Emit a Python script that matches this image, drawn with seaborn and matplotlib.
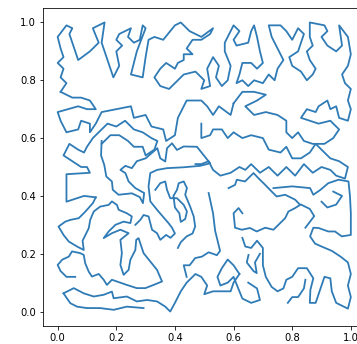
import numpy as np
import pandas as pd
import matplotlib
matplotlib.use('Agg')
import matplotlib.pyplot as plt
import seaborn as sns

# strokes of the tour (x, y)
top_row = [
    (0.01, 0.76), (0.03, 0.79), (0.01, 0.81), (0.02, 0.84), (0.00, 0.86), (0.02, 0.88),
    (0.01, 0.91), (0.00, 0.95), (0.03, 0.99), (0.05, 0.98), (0.04, 0.96), (0.05, 0.93),
    (0.07, 0.87), (0.11, 0.90), (0.14, 0.93), (0.12, 0.98), (0.16, 1.00), (0.15, 0.93),
    (0.17, 0.87), (0.19, 0.81), (0.21, 0.85), (0.20, 0.90), (0.22, 0.92), (0.20, 0.94),
    (0.21, 0.96), (0.23, 0.97), (0.25, 0.98), (0.24, 0.95), (0.26, 0.93), (0.28, 0.94),
    (0.29, 0.99), (0.30, 0.98), (0.27, 0.90), (0.25, 0.82), (0.29, 0.81), (0.30, 0.88),
    (0.31, 0.94), (0.33, 0.95), (0.36, 0.94), (0.40, 0.99), (0.42, 1.00), (0.45, 0.97),
    (0.49, 0.95), (0.53, 0.98), (0.52, 0.96), (0.49, 0.94), (0.46, 0.94), (0.44, 0.91),
    (0.46, 0.89), (0.43, 0.89), (0.43, 0.87), (0.41, 0.86), (0.40, 0.84), (0.37, 0.86),
    (0.35, 0.84), (0.33, 0.81), (0.35, 0.78), (0.38, 0.77), (0.41, 0.80), (0.43, 0.82),
    (0.47, 0.83), (0.50, 0.80), (0.49, 0.77), (0.52, 0.78), (0.51, 0.84), (0.53, 0.88),
    (0.55, 0.85), (0.54, 0.81), (0.56, 0.78), (0.58, 0.80), (0.59, 0.85), (0.57, 0.90),
    (0.57, 0.93), (0.59, 0.97), (0.60, 0.99), (0.62, 0.97), (0.60, 0.94), (0.61, 0.92),
    (0.65, 0.93), (0.66, 0.97), (0.67, 0.99), (0.68, 0.95), (0.69, 0.90), (0.70, 0.86),
    (0.68, 0.84), (0.66, 0.86), (0.63, 0.86), (0.62, 0.82), (0.61, 0.79), (0.63, 0.80),
    (0.65, 0.78), (0.67, 0.80), (0.70, 0.79), (0.72, 0.82), (0.74, 0.80), (0.75, 0.84),
    (0.77, 0.87), (0.75, 0.91), (0.73, 0.95), (0.72, 0.99), (0.76, 0.99), (0.78, 0.97),
    (0.80, 0.94), (0.82, 0.98), (0.84, 0.96), (0.83, 0.93), (0.82, 0.90), (0.79, 0.88),
    (0.80, 0.85), (0.83, 0.83), (0.85, 0.80), (0.87, 0.82), (0.88, 0.84), (0.86, 0.87),
    (0.85, 0.90), (0.87, 0.92), (0.86, 0.95), (0.86, 1.00), (0.91, 0.99), (0.92, 0.97),
    (0.90, 0.95), (0.92, 0.92), (0.95, 0.90), (0.97, 0.92), (0.96, 0.99), (0.99, 0.95),
    (1.00, 0.89), (0.99, 0.85), (0.97, 0.82), (0.98, 0.79), (1.00, 0.77), (0.99, 0.73),
    (1.00, 0.70), (0.99, 0.66), (0.96, 0.67), (0.95, 0.71), (0.93, 0.70), (0.92, 0.73),
    (0.89, 0.71), (0.88, 0.69), (0.85, 0.70), (0.83, 0.67), (0.86, 0.66), (0.89, 0.65),
    (0.93, 0.66), (0.96, 0.63), (0.94, 0.60), (0.91, 0.58), (0.87, 0.58), (0.84, 0.59),
    (0.82, 0.62), (0.80, 0.60), (0.78, 0.62), (0.78, 0.66), (0.75, 0.68), (0.71, 0.69),
    (0.67, 0.68), (0.64, 0.71), (0.68, 0.73), (0.71, 0.75), (0.67, 0.76), (0.63, 0.76),
    (0.60, 0.72),
]

upper_left = [
    (0.01, 0.76), (0.05, 0.74), (0.08, 0.74), (0.11, 0.73), (0.13, 0.70), (0.10, 0.70),
    (0.07, 0.71), (0.00, 0.69), (0.01, 0.66), (0.03, 0.62), (0.07, 0.63), (0.08, 0.66),
    (0.11, 0.65), (0.11, 0.62), (0.13, 0.65), (0.15, 0.69), (0.20, 0.70), (0.25, 0.71),
    (0.26, 0.67), (0.30, 0.68), (0.32, 0.64), (0.36, 0.63), (0.37, 0.59), (0.40, 0.61),
    (0.41, 0.67), (0.44, 0.73), (0.49, 0.73), (0.51, 0.71), (0.53, 0.68), (0.55, 0.71),
    (0.59, 0.68), (0.60, 0.72),
]
upper_mid = [
    (0.15, 0.58), (0.18, 0.61), (0.21, 0.61), (0.24, 0.59), (0.26, 0.57), (0.29, 0.57),
    (0.30, 0.54), (0.33, 0.56), (0.34, 0.59), (0.32, 0.60), (0.29, 0.62), (0.26, 0.63),
    (0.23, 0.66), (0.20, 0.64), (0.17, 0.65), (0.15, 0.63), (0.12, 0.60), (0.10, 0.57),
    (0.09, 0.55), (0.07, 0.56), (0.04, 0.58), (0.02, 0.54), (0.05, 0.52), (0.08, 0.50),
    (0.10, 0.50), (0.11, 0.48), (0.03, 0.475), (0.03, 0.43), (0.03, 0.38), (0.06, 0.39),
    (0.09, 0.40), (0.13, 0.395),
]
upper_right = [
    (0.49, 0.65), (0.49, 0.60), (0.52, 0.61), (0.53, 0.63), (0.56, 0.63), (0.58, 0.60),
    (0.60, 0.62), (0.63, 0.60), (0.66, 0.61), (0.70, 0.60), (0.72, 0.56), (0.76, 0.55),
    (0.78, 0.57), (0.80, 0.53), (0.83, 0.53), (0.86, 0.55), (0.88, 0.58), (0.91, 0.55),
    (0.93, 0.53), (0.96, 0.52), (0.99, 0.50), (0.98, 0.46), (0.95, 0.47), (0.93, 0.49),
    (0.90, 0.50), (0.87, 0.48), (0.84, 0.51), (0.81, 0.47), (0.78, 0.50), (0.75, 0.47),
    (0.72, 0.50), (0.69, 0.48), (0.66, 0.51), (0.64, 0.49), (0.62, 0.50), (0.59, 0.48),
    (0.555, 0.47), (0.53, 0.49), (0.515, 0.52), (0.49, 0.51), (0.47, 0.51),
]

lower_left = [
    (0.15, 0.59), (0.148, 0.54), (0.159, 0.507), (0.166, 0.467), (0.185, 0.45),
    (0.188, 0.421), (0.208, 0.404), (0.253, 0.409), (0.28, 0.396), (0.291, 0.375),
    (0.295, 0.41), (0.265, 0.427), (0.242, 0.45), (0.231, 0.479), (0.214, 0.49),
    (0.231, 0.504), (0.253, 0.496), (0.27, 0.52), (0.30, 0.53), (0.34, 0.565),
    (0.35, 0.53), (0.367, 0.519), (0.373, 0.565), (0.39, 0.582), (0.407, 0.559),
    (0.43, 0.571), (0.475, 0.57), (0.52, 0.513), (0.486, 0.504), (0.429, 0.499),
    (0.373, 0.496), (0.339, 0.49), (0.316, 0.479), (0.31, 0.433), (0.316, 0.381),
    (0.339, 0.352), (0.361, 0.326), (0.378, 0.306), (0.39, 0.29), (0.40, 0.27),
    (0.385, 0.255), (0.37, 0.265), (0.35, 0.248), (0.339, 0.271), (0.322, 0.283),
    (0.316, 0.306), (0.31, 0.329), (0.293, 0.334), (0.282, 0.317), (0.265, 0.3),
]
lower_left_2 = [
    (0.333, 0.421), (0.35, 0.444), (0.367, 0.45), (0.373, 0.421), (0.384, 0.392),
    (0.407, 0.392), (0.43, 0.369), (0.441, 0.346), (0.435, 0.32), (0.42, 0.31),
    (0.415, 0.34), (0.40, 0.36), (0.395, 0.40), (0.407, 0.421), (0.413, 0.444),
    (0.43, 0.45), (0.441, 0.427), (0.435, 0.404), (0.452, 0.363), (0.464, 0.329),
    (0.469, 0.294), (0.46, 0.27), (0.44, 0.26), (0.42, 0.24), (0.41, 0.22),
]
crab = [
    (0.13, 0.395), (0.12, 0.375), (0.100, 0.352), (0.089, 0.340), (0.072, 0.323),
    (0.043, 0.317), (0.026, 0.311), (0.003, 0.294), (0.020, 0.265), (0.038, 0.242),
    (0.066, 0.225), (0.089, 0.213), (0.085, 0.245), (0.106, 0.288), (0.111, 0.317),
    (0.123, 0.346), (0.145, 0.363), (0.174, 0.369), (0.185, 0.381), (0.202, 0.369),
    (0.208, 0.352), (0.236, 0.340), (0.253, 0.329), (0.248, 0.306), (0.225, 0.311),
    (0.197, 0.3), (0.174, 0.277), (0.157, 0.254), (0.185, 0.271), (0.214, 0.283),
    (0.242, 0.271), (0.214, 0.248), (0.219, 0.202), (0.214, 0.161), (0.225, 0.127),
    (0.242, 0.144), (0.248, 0.179), (0.265, 0.213), (0.268, 0.248), (0.276, 0.254),
    (0.293, 0.202), (0.316, 0.173), (0.339, 0.144), (0.356, 0.104), (0.327, 0.092),
    (0.299, 0.081), (0.27, 0.081), (0.236, 0.092), (0.202, 0.104), (0.185, 0.11),
    (0.168, 0.092), (0.157, 0.11), (0.14, 0.13), (0.117, 0.121), (0.106, 0.138),
    (0.094, 0.167), (0.089, 0.196), (0.077, 0.202), (0.049, 0.208), (0.038, 0.19),
    (0.015, 0.179), (0.0, 0.161), (0.01, 0.14), (0.03, 0.12), (0.06, 0.12),
]
bottom_left = [
    (0.02, 0.063), (0.055, 0.081), (0.089, 0.063), (0.123, 0.052), (0.157, 0.058),
    (0.185, 0.069), (0.191, 0.046), (0.236, 0.052), (0.27, 0.035), (0.305, 0.04),
    (0.339, 0.035), (0.367, 0.017), (0.384, 0.0), (0.40, 0.03), (0.42, 0.07),
    (0.44, 0.10), (0.47, 0.13), (0.49, 0.12), (0.51, 0.09), (0.50, 0.06),
    (0.53, 0.07), (0.56, 0.07), (0.59, 0.07), (0.60, 0.10), (0.62, 0.13),
]
bottom_left_2 = [
    (0.02, 0.063), (0.043, 0.029), (0.066, 0.017), (0.1, 0.012), (0.145, 0.012),
    (0.191, 0.006), (0.236, 0.017), (0.293, 0.012),
]

lower_right = [
    (0.515, 0.41), (0.53, 0.34), (0.537, 0.28), (0.554, 0.21), (0.543, 0.195),
    (0.515, 0.205), (0.492, 0.19), (0.469, 0.185), (0.45, 0.16), (0.43, 0.16),
    (0.44, 0.12),
]
lower_right_2 = [
    (0.583, 0.427), (0.605, 0.438), (0.611, 0.456), (0.639, 0.450), (0.668, 0.479),
    (0.685, 0.461), (0.708, 0.438), (0.73, 0.415), (0.747, 0.398), (0.776, 0.404),
    (0.81, 0.387), (0.827, 0.369), (0.81, 0.358), (0.787, 0.346), (0.776, 0.323),
    (0.759, 0.306), (0.736, 0.283), (0.708, 0.29), (0.679, 0.277), (0.656, 0.289),
    (0.628, 0.283), (0.605, 0.29), (0.60, 0.34), (0.617, 0.358), (0.63, 0.34),
]
lower_right_3 = [
    (0.736, 0.427), (0.80, 0.433), (0.861, 0.427), (0.872, 0.404), (0.895, 0.42),
    (0.923, 0.444), (0.958, 0.456), (0.992, 0.45), (0.997, 0.40), (1.0, 0.34),
    (1.0, 0.265), (0.969, 0.26), (0.946, 0.277), (0.923, 0.277), (0.89, 0.289),
    (0.872, 0.29), (0.861, 0.26), (0.878, 0.235), (0.90, 0.225), (0.935, 0.21),
    (0.965, 0.19), (0.99, 0.17), (1.0, 0.13), (0.99, 0.09), (1.0, 0.05),
    (0.99, 0.01), (0.95, 0.03), (0.935, 0.07), (0.93, 0.115), (0.91, 0.12),
    (0.90, 0.09), (0.89, 0.06), (0.88, 0.03), (0.86, 0.03), (0.862, 0.075),
    (0.872, 0.115), (0.85, 0.15), (0.82, 0.15), (0.80, 0.12), (0.78, 0.11),
    (0.77, 0.08), (0.75, 0.07), (0.73, 0.085), (0.71, 0.12), (0.70, 0.16),
    (0.70, 0.19), (0.70, 0.22), (0.68, 0.245), (0.66, 0.22), (0.64, 0.225),
    (0.63, 0.255),
]
lower_right_4 = [
    (0.651, 0.196), (0.645, 0.17), (0.668, 0.14), (0.679, 0.133), (0.673, 0.17),
    (0.69, 0.2),
]
lower_right_5 = [
    (0.62, 0.13), (0.60, 0.16), (0.58, 0.18), (0.56, 0.15), (0.545, 0.12),
    (0.555, 0.09), (0.58, 0.10), (0.60, 0.12), (0.63, 0.045), (0.66, 0.03),
    (0.69, 0.04), (0.68, 0.08), (0.65, 0.10),
]
lower_right_6 = [
    (0.785, 0.03), (0.80, 0.05), (0.82, 0.05), (0.84, 0.08), (0.845, 0.11),
]
right_notch = [
    (0.83, 0.37), (0.86, 0.355), (0.875, 0.33), (0.86, 0.31), (0.845, 0.29),
]
right_hook = [
    (0.90, 0.38), (0.92, 0.36), (0.95, 0.37), (0.97, 0.40), (0.94, 0.415),
]

strokes = [top_row, upper_left, upper_mid, upper_right, lower_left, lower_left_2,
           crab, bottom_left, bottom_left_2, lower_right, lower_right_2,
           lower_right_3, lower_right_4, lower_right_5, lower_right_6,
           right_notch, right_hook]
rows = []
for k, stroke in enumerate(strokes):
    for i, (x, y) in enumerate(stroke):
        rows.append((k, i, x, y))
df = pd.DataFrame(rows, columns=['stroke', 'order', 'x', 'y'])

fig = plt.figure(figsize=(357 / 72, 344 / 72), dpi=72)
ax = fig.add_axes([43 / 357, 18 / 344, 322.5 / 357, 318 / 344])
sns.lineplot(data=df, x='x', y='y', units='stroke', sort=False, estimator=None,
             color='#2f7bb6', linewidth=1.8, ax=ax)
ax.set_xlim(-0.05, 1.05)
ax.set_ylim(-0.05, 1.05)
ax.set_xticks(np.arange(0, 1.01, 0.2))
ax.set_yticks(np.arange(0, 1.01, 0.2))
ax.set_xlabel('')
ax.set_ylabel('')
fig.savefig('out.png', dpi=72)
